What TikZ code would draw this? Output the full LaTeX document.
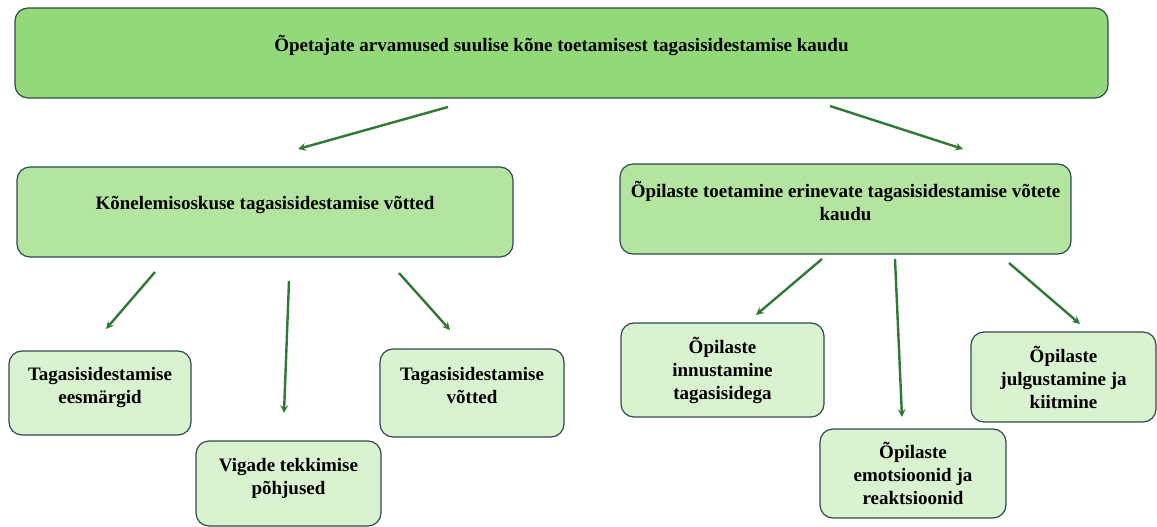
\documentclass[tikz,border=0pt]{standalone}
\usepackage{fontspec}
\setmainfont{Liberation Serif}
\usetikzlibrary{arrows,positioning}
\tikzset{>=stealth}
\definecolor{rootgreen}{HTML}{93D97A}
\definecolor{midgreen}{HTML}{B3E5A1}
\definecolor{leafgreen}{HTML}{D9F2D0}
\definecolor{edgegray}{HTML}{2F4A4F}
\definecolor{arrowgreen}{HTML}{2E7A32}

\begin{document}
\begin{tikzpicture}[x=1pt, y=-1pt,
  box/.style={draw=edgegray, line width=1.2pt, rounded corners=13pt,
    align=center, inner sep=0pt,
    font=\fontsize{19}{23}\selectfont\bfseries},
  rootbox/.style={box, fill=rootgreen},
  midbox/.style={box, fill=midgreen},
  leafbox/.style={box, fill=leafgreen},
  lift/.style={execute at end node={\rule[-#1]{0pt}{0pt}}},
  link/.style={->, draw=arrowgreen, line width=2.4pt}]

\useasboundingbox (0,0) rectangle (1157,527);

% top level
\node[rootbox, minimum width=1093pt, minimum height=90pt, lift=20pt] (root) at (561.5,53)
  {Õpetajate arvamused suulise kõne toetamisest tagasisidestamise kaudu};

% second level
\node[midbox, minimum width=496pt, minimum height=90pt, lift=18pt] (tech) at (265,212)
  {Kõnelemisoskuse tagasisidestamise võtted};
\node[midbox, minimum width=451pt, minimum height=90pt, lift=17pt] (supp) at (845.5,209)
  {Õpilaste toetamine erinevate tagasisidestamise võtete\\ kaudu};

% leaves under tech
\node[leafbox, minimum width=182pt, minimum height=84pt, lift=16pt] (goals) at (100,393)
  {Tagasisidestamise\\ eesmärgid};
\node[leafbox, minimum width=185pt, minimum height=85pt, lift=15pt] (causes) at (288.5,483.5)
  {Vigade tekkimise\\ põhjused};
\node[leafbox, minimum width=184pt, minimum height=88pt, lift=16pt] (methods) at (472,393)
  {Tagasisidestamise\\ võtted};

% leaves under supp
\node[leafbox, minimum width=203pt, minimum height=94pt] (motiv) at (722.5,370)
  {Õpilaste\\ innustamine\\ tagasisidega};
\node[leafbox, minimum width=186pt, minimum height=89pt] (emot) at (913,473.5)
  {Õpilaste\\ emotsioonid ja\\ reaktsioonid};
\node[leafbox, minimum width=185pt, minimum height=90pt] (praise) at (1063.5,377)
  {Õpilaste\\ julgustamine ja\\ kiitmine};

% arrow ends (they float between the boxes)
\coordinate (rootL) at (448,107);
\coordinate (techIn) at (298,149);
\coordinate (rootR) at (830,106);
\coordinate (suppIn) at (963,149);
\coordinate (techA) at (155,272);
\coordinate (goalsIn) at (106,329);
\coordinate (techB) at (289,281);
\coordinate (causesIn) at (284,413);
\coordinate (techC) at (399,273);
\coordinate (methodsIn) at (450,330);
\coordinate (suppA) at (822,259);
\coordinate (motivIn) at (756,315);
\coordinate (suppB) at (895,259);
\coordinate (emotIn) at (902,417);
\coordinate (suppC) at (1009,263);
\coordinate (praiseIn) at (1080,324);

\draw[link] (rootL) -- (techIn);
\draw[link] (rootR) -- (suppIn);
\draw[link] (techA) -- (goalsIn);
\draw[link] (techB) -- (causesIn);
\draw[link] (techC) -- (methodsIn);
\draw[link] (suppA) -- (motivIn);
\draw[link] (suppB) -- (emotIn);
\draw[link] (suppC) -- (praiseIn);
\end{tikzpicture}
\end{document}
